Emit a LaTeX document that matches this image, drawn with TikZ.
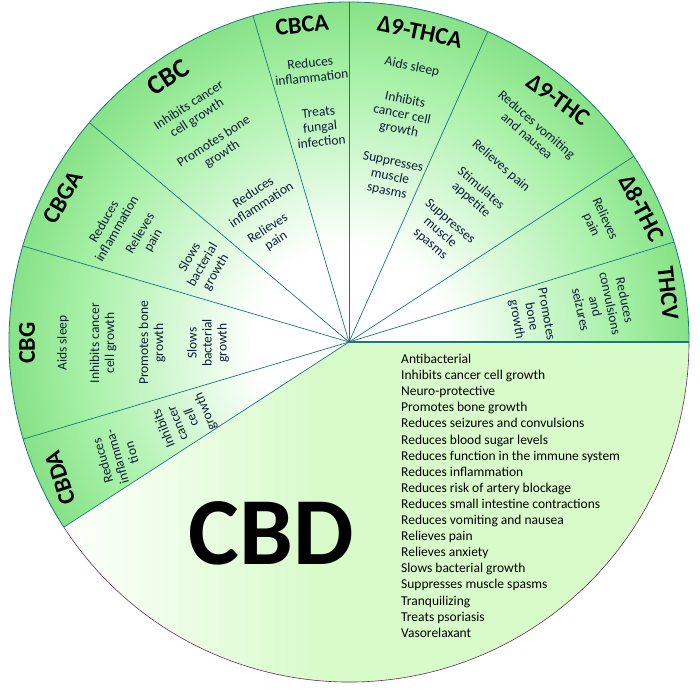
\documentclass[tikz,border=0pt]{standalone}
\usepackage{fontspec}
\setmainfont{Carlito}
\usepackage{xcolor}
\usepackage{tikz}

\definecolor{leafdeep}{RGB}{62,188,62}
\definecolor{leafgrass}{RGB}{110,214,110}
\definecolor{leafmid}{RGB}{165,240,165}
\definecolor{leafpale}{RGB}{216,251,202}
\definecolor{rimteal}{RGB}{28,118,124}
\definecolor{rimplum}{RGB}{110,40,90}
\definecolor{inkblue}{RGB}{10,30,55}

% the shading box is stretched so its circle reaches the corners: 35bp is the rim
\pgfdeclareradialshading{sectorfade}{\pgfpoint{0bp}{0bp}}{color(0bp)=(white); color(7bp)=(white); color(20bp)=(leafmid); color(29bp)=(leafgrass); color(35bp)=(leafdeep); color(50bp)=(leafdeep)}

\begin{document}
\begin{tikzpicture}[
  x=1pt,
  y=1pt,
  head/.style={font=\bfseries\fontsize{24}{26}\selectfont, text=black, inner sep=0pt, align=center},
  item/.style={font=\fontsize{13.5}{15}\selectfont, text=inkblue, inner sep=0pt, align=center},
  spoke/.style={draw=rimteal, line width=0.7pt}
]
\useasboundingbox (-349,-346) rectangle (351,342);

% green sectors, one fade for all of them
\begin{scope}
  \clip (0,0) -- (0:340) arc[start angle=0, end angle=213, radius=340] -- cycle;
  \shade[shading=sectorfade] (0,0) circle[radius=340];
\end{scope}
% CBD sector
\begin{scope}
  \clip (0,0) -- (213:340) arc[start angle=213, end angle=360, radius=340] -- cycle;
  \fill[leafpale] (-30,-346) rectangle (351,0);
  \shade[left color=white, right color=leafpale] (-300,-346) rectangle (-30,0);
\end{scope}

\draw[rimteal, line width=0.8pt] (0:340) arc[start angle=0, end angle=213, radius=340];
\draw[rimplum, line width=0.6pt] (213:340) arc[start angle=213, end angle=360, radius=340];
\foreach \a in {17.1,33.1,65.9,90,106.4,139.8,163.6,196.6,213}
  \draw[spoke] (0,0) -- (\a:340);
\draw[spoke, line width=1.6pt] (0,0) -- (0:340);

% CBCA
\node[head, rotate=6] (cbca) at (-47,317) {CBCA};
\node[item, rotate=6] (cbcaA) at (-38,272) {Reduces\\inflammation};
\node[item, rotate=6] (cbcaB) at (-29,215) {Treats\\fungal\\infection};
% D9-THCA
\node[head, rotate=-12] (thca) at (71,310) {Δ9-THCA};
\node[item, rotate=-12] (thcaA) at (63,275) {Aids sleep};
\node[item, rotate=-12] (thcaB) at (53,227) {Inhibits\\cancer cell\\growth};
\node[item, rotate=-12] (thcaC) at (41,165) {Suppresses\\muscle\\spasms};
% D9-THC
\node[head, rotate=-36] (thcnine) at (209,242) {Δ9-THC};
\node[item, rotate=-41] (thcnineA) at (183,212) {Reduces vomiting\\and nausea};
\node[item, rotate=-41] (thcnineB) at (152,176) {Relieves pain};
\node[item, rotate=-41] (thcnineC) at (127,148) {Stimulates\\appetite};
\node[item, rotate=-41] (thcnineD) at (91,109) {Suppresses\\muscle\\spasms};
% D8-THC
\node[head, rotate=-62] (thceight) at (293,134) {Δ8-THC};
\node[item, rotate=-66] (thceightA) at (249,120) {Relieves\\pain};
% THCV
\node[head, rotate=-84] (thcv) at (319,49) {THCV};
\node[item, rotate=-78] (thcvA) at (254,37) {Reduces\\convulsions\\and\\seizures};
\node[item, rotate=-80] (thcvB) at (182,25) {Promotes\\bone\\growth};
% CBC
\node[head, rotate=33, font=\bfseries\fontsize{27}{29}\selectfont] (cbc) at (-181,265) {CBC};
\node[item, rotate=33] (cbcA) at (-156,230) {Inhibits cancer\\cell growth};
\node[item, rotate=33] (cbcB) at (-131,194) {Promotes bone\\growth};
\node[item, rotate=33] (cbcC) at (-92,144) {Reduces\\inflammation};
\node[item, rotate=33] (cbcD) at (-77,107) {Relieves\\pain};
% CBGA
\node[head, rotate=60] (cbga) at (-286,145) {CBGA};
\node[item, rotate=60] (cbgaA) at (-239,117) {Reduces\\inflammation};
\node[item, rotate=60] (cbgaB) at (-202,105) {Relieves\\pain};
\node[item, rotate=60] (cbgaC) at (-146,77) {Slows\\bacterial\\growth};
% CBG
\node[head, rotate=90] (cbg) at (-322,-1) {CBG};
\node[item, rotate=90] (cbgA) at (-286,-1) {Aids sleep};
\node[item, rotate=90] (cbgB) at (-246,-1) {Inhibits cancer\\cell growth};
\node[item, rotate=90] (cbgC) at (-197,-1) {Promotes bone\\growth};
\node[item, rotate=90] (cbgD) at (-141,-1) {Slows\\bacterial\\growth};
% CBDA
\node[head, rotate=108] (cbda) at (-289,-136) {CBDA};
\node[item, rotate=106] (cbdaA) at (-232,-115) {Reduces\\inflamma-\\tion};
\node[item, rotate=112] (cbdaB) at (-164,-78) {Inhibits\\cancer\\cell\\growth};
% CBD
\node[font=\bfseries\fontsize{96}{96}\selectfont, inner sep=0pt] (cbd) at (-78,-191) {CBD};
\node[anchor=north west, align=left, inner sep=0pt, font=\fontsize{13.5}{16.1}\selectfont]
  (cbdlist) at (52,-12)
  {Antibacterial\\Inhibits cancer cell growth\\Neuro-protective\\Promotes bone growth\\
   Reduces seizures and convulsions\\Reduces blood sugar levels\\
   Reduces function in the immune system\\Reduces inflammation\\
   Reduces risk of artery blockage\\Reduces small intestine contractions\\
   Reduces vomiting and nausea\\Relieves pain\\Relieves anxiety\\
   Slows bacterial growth\\Suppresses muscle spasms\\Tranquilizing\\
   Treats psoriasis\\Vasorelaxant};

\end{tikzpicture}
\end{document}
